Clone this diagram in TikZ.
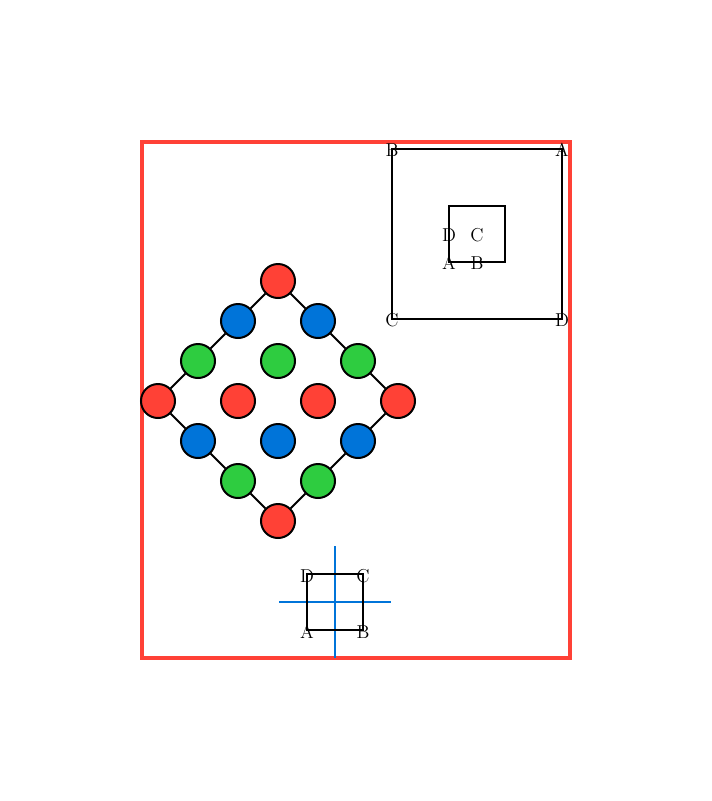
\documentclass[tikz,border=0pt]{standalone}
\usetikzlibrary{calc}
\definecolor{cred}{HTML}{FF4136}
\definecolor{cblue}{HTML}{0074D9}
\definecolor{cgreen}{HTML}{2ECC40}
\tikzset{
  dot/.style={circle,draw=black,line width=1.5pt,minimum size=25.5pt,inner sep=0pt},
  rdot/.style={dot,fill=cred},
  bdot/.style={dot,fill=cblue},
  gdot/.style={dot,fill=cgreen},
  edge/.style={draw=black,line width=1.5pt},
  lbl/.style={inner sep=0pt,font=\fontsize{14}{16}\selectfont},
}
\begin{document}
\begin{tikzpicture}[x=0.75pt,y=-0.75pt]
\useasboundingbox (0,0) rectangle (712,801);
% frame
\draw[cred,line width=3pt] (142,142) rectangle (570,658);
% nodes
\node[rdot] (n1) at (278,281) {};
\node[bdot] (n2) at (238,321) {};
\node[bdot] (n3) at (318,321) {};
\node[gdot] (n4) at (198,361) {};
\node[gdot] (n5) at (278,361) {};
\node[gdot] (n6) at (358,361) {};
\node[rdot] (n7) at (158,401) {};
\node[rdot] (n8) at (238,401) {};
\node[rdot] (n9) at (318,401) {};
\node[rdot] (n10) at (398,401) {};
\node[bdot] (n11) at (198,441) {};
\node[bdot] (n12) at (278,441) {};
\node[bdot] (n13) at (358,441) {};
\node[gdot] (n14) at (238,481) {};
\node[gdot] (n15) at (318,481) {};
\node[rdot] (n16) at (278,521) {};
% diamond edges
\draw[edge] (n1) -- (n2) (n2) -- (n4) (n4) -- (n7)
            (n7) -- (n11) (n11) -- (n14) (n14) -- (n16)
            (n16) -- (n15) (n15) -- (n13) (n13) -- (n10)
            (n10) -- (n6) (n6) -- (n3) (n3) -- (n1);
% big square
\draw[edge] (392,149) rectangle (562,319);
\node[lbl] (bB) at (392,150) {B};
\node[lbl] (bA) at (562,150) {A};
\node[lbl] (bC) at (392,320) {C};
\node[lbl] (bD) at (562,320) {D};
% small square
\draw[edge] (449,206) rectangle (505,262);
\node[lbl] (sD) at (449,235) {D};
\node[lbl] (sC) at (477,235) {C};
\node[lbl] (sA) at (449,263) {A};
\node[lbl] (sB) at (477,263) {B};
% bottom cross
\coordinate (vt) at (335,546);
\coordinate (vb) at (335,658);
\coordinate (hl) at (279,602);
\coordinate (hr) at (391,602);
\draw[cblue,line width=1.5pt] (vt) -- (vb);
\draw[cblue,line width=1.5pt] (hl) -- (hr);
\draw[edge] (307,574) rectangle (363,630);
\node[lbl] (qD) at (307,576) {D};
\node[lbl] (qC) at (363,576) {C};
\node[lbl] (qA) at (307,632) {A};
\node[lbl] (qB) at (363,632) {B};
\end{tikzpicture}
\end{document}
